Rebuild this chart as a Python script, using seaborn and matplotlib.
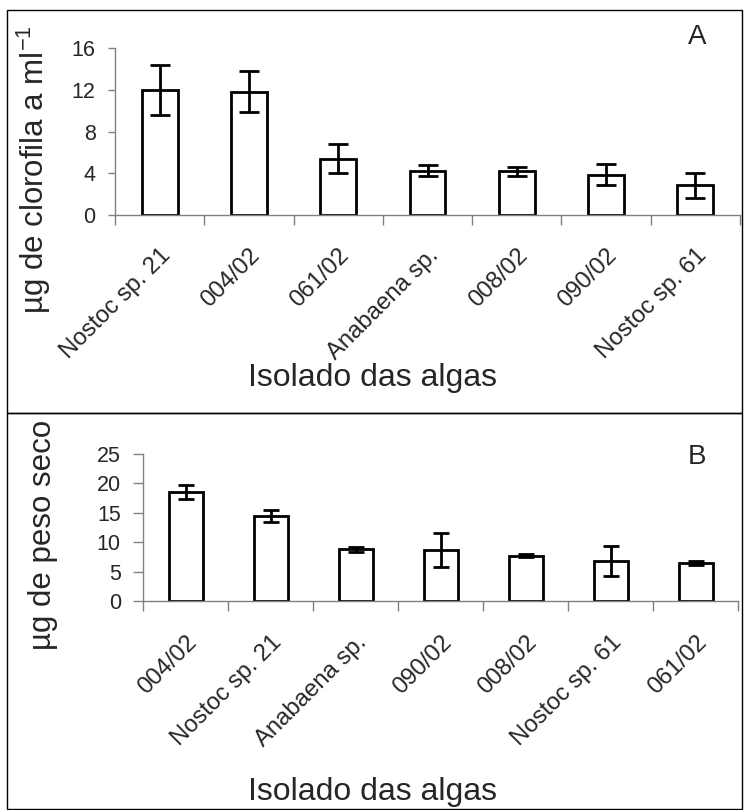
import matplotlib
matplotlib.use("Agg")
import matplotlib.pyplot as plt
from matplotlib.patches import Rectangle
import seaborn as sns
import pandas as pd

# Panel A: chlorophyll a per ml
cats_a = ["Nostoc sp. 21", "004/02", "061/02", "Anabaena sp.", "008/02", "090/02", "Nostoc sp. 61"]
chl_a = [12.0, 11.8, 5.4, 4.25, 4.2, 3.85, 2.85]
chl_a_err = [2.4, 1.95, 1.4, 0.5, 0.42, 1.0, 1.2]

# Panel B: dry weight
cats_b = ["004/02", "Nostoc sp. 21", "Anabaena sp.", "090/02", "008/02", "Nostoc sp. 61", "061/02"]
dry_b = [18.6, 14.5, 8.8, 8.65, 7.7, 6.75, 6.5]
dry_b_err = [1.2, 1.0, 0.4, 2.85, 0.3, 2.55, 0.3]

sns.set_style("white")
plt.rcParams["font.family"] = ["Liberation Sans", "DejaVu Sans"]
plt.rcParams["mathtext.default"] = "regular"

W, H = 744, 810
fig = plt.figure(figsize=(W / 100, H / 100), dpi=100)


def px_axes(x0, x1, y0, y1):
    return fig.add_axes([x0 / W, 1 - y1 / H, (x1 - x0) / W, (y1 - y0) / H])


def draw_panel(ax, cats, vals, errs, ymax, step, tick_len, cap, lab_pad):
    df = pd.DataFrame({"isolado": cats, "valor": vals})
    sns.barplot(data=df, x="isolado", y="valor", order=cats, width=0.4,
                color="white", edgecolor="black", linewidth=2,
                errorbar=None, ax=ax, saturation=1)
    ax.errorbar(range(len(cats)), vals, yerr=errs, fmt="none",
                ecolor="black", elinewidth=2, capsize=cap, capthick=2)
    ax.set_xlim(-0.5, len(cats) - 0.5)
    ax.set_ylim(0, ymax)
    ax.set_yticks(range(0, ymax + 1, step))
    # category boundaries carry the tick marks, the names sit between them
    ax.set_xticks([i - 0.5 for i in range(len(cats) + 1)])
    ax.set_xticklabels([])
    ax.set_xticks(range(len(cats)), minor=True)
    ax.set_xticklabels(cats, minor=True, rotation=45, ha="right",
                       rotation_mode="anchor", fontsize=17.2)
    ax.tick_params(axis="x", which="major", length=7, width=1, color="#808080",
                   direction="out", bottom=True)
    ax.tick_params(axis="x", which="minor", length=0, pad=lab_pad, bottom=True)
    ax.tick_params(axis="y", length=tick_len, width=1, color="#808080",
                   direction="out", left=True, labelsize=15.5, pad=9)
    for s in ["top", "right"]:
        ax.spines[s].set_visible(False)
    for s in ["left", "bottom"]:
        ax.spines[s].set_color("#808080")
        ax.spines[s].set_linewidth(1)
    ax.set_xlabel("")
    ax.set_ylabel("")


ax_a = px_axes(115, 740, 48, 215)
draw_panel(ax_a, cats_a, chl_a, chl_a_err, 16, 4, 5, 7.2, 21)

ax_b = px_axes(143, 738, 454, 601)
draw_panel(ax_b, cats_b, dry_b, dry_b_err, 25, 5, 7, 6, 22)

# panel frames
for (y0, y1) in [(10, 413), (413, 809)]:
    fig.add_artist(Rectangle((7 / W, 1 - y1 / H), (742 - 7) / W, (y1 - y0) / H,
                             transform=fig.transFigure, fill=False,
                             edgecolor="black", linewidth=1))

# axis titles and panel letters
fig.text(34 / W, 1 - 170 / H, "µg de clorofila a ml$^{-1}$", rotation=90,
         ha="center", va="center", fontsize=22.5)
fig.text(43 / W, 1 - 535 / H, "µg de peso seco", rotation=90,
         ha="center", va="center", fontsize=22.5)
fig.text(372 / W, 1 - 378 / H, "Isolado das algas", ha="center", va="center",
         fontsize=23)
fig.text(372 / W, 1 - 792 / H, "Isolado das algas", ha="center", va="center",
         fontsize=23)
fig.text(697 / W, 1 - 37 / H, "A", ha="center", va="center", fontsize=20)
fig.text(697 / W, 1 - 457 / H, "B", ha="center", va="center", fontsize=20)

fig.savefig("out.png", dpi=100)
